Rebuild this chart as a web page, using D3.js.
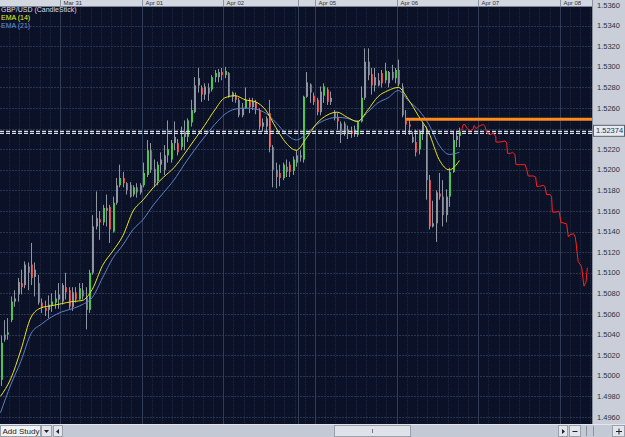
<!DOCTYPE html>
<html><head><meta charset="utf-8">
<script src="https://cdn.jsdelivr.net/npm/d3@7/dist/d3.min.js"></script>
<style>html,body{margin:0;padding:0;background:#0b1127;overflow:hidden}svg{display:block}</style>
</head><body><svg id="c" width="625" height="437"></svg>
<script>
// ---- data (GBP/USD hourly candles) ----
const opens=[1.4996,1.5040,1.5040,1.5054,1.5072,1.5079,1.5090,1.5088,1.5106,1.5108,
1.5096,1.5090,1.5071,1.5066,1.5064,1.5068,1.5071,1.5074,1.5072,1.5086,
1.5083,1.5067,1.5081,1.5074,1.5083,1.5076,1.5064,1.5100,1.5145,1.5152,
1.5149,1.5163,1.5164,1.5140,1.5168,1.5185,1.5192,1.5187,1.5185,1.5176,
1.5183,1.5178,1.5185,1.5195,1.5219,1.5201,1.5189,1.5205,1.5200,1.5214,
1.5210,1.5226,1.5226,1.5222,1.5232,1.5232,1.5246,1.5256,1.5282,1.5280,
1.5273,1.5280,1.5278,1.5290,1.5290,1.5295,1.5292,1.5294,1.5271,1.5272,
1.5268,1.5253,1.5260,1.5268,1.5261,1.5266,1.5258,1.5242,1.5242,1.5255,
1.5222,1.5200,1.5197,1.5192,1.5203,1.5205,1.5199,1.5207,1.5214,1.5210,
1.5271,1.5283,1.5272,1.5268,1.5256,1.5272,1.5278,1.5266,1.5256,1.5251,
1.5245,1.5245,1.5236,1.5238,1.5235,1.5234,1.5247,1.5270,1.5305,1.5293,
1.5282,1.5282,1.5294,1.5287,1.5284,1.5295,1.5289,1.5297,1.5281,1.5250,
1.5244,1.5232,1.5227,1.5220,1.5236,1.5237,1.5190,1.5145,1.5148,1.5177,
1.5174,1.5156,1.5174,1.5198,1.5229,1.5233];
const highs=[1.5039,1.5054,1.5056,1.5077,1.5083,1.5095,1.5103,1.5111,1.5110,1.5129,
1.5110,1.5098,1.5075,1.5073,1.5078,1.5080,1.5083,1.5090,1.5090,1.5100,
1.5086,1.5086,1.5086,1.5090,1.5090,1.5086,1.5103,1.5156,1.5179,1.5160,
1.5166,1.5176,1.5166,1.5174,1.5192,1.5205,1.5198,1.5188,1.5188,1.5185,
1.5187,1.5187,1.5207,1.5229,1.5226,1.5210,1.5208,1.5217,1.5224,1.5248,
1.5229,1.5247,1.5230,1.5242,1.5248,1.5250,1.5268,1.5290,1.5299,1.5282,
1.5284,1.5284,1.5292,1.5297,1.5298,1.5299,1.5300,1.5295,1.5276,1.5275,
1.5270,1.5265,1.5280,1.5270,1.5270,1.5268,1.5260,1.5250,1.5252,1.5268,
1.5224,1.5207,1.5205,1.5207,1.5210,1.5208,1.5213,1.5219,1.5219,1.5272,
1.5295,1.5284,1.5275,1.5270,1.5281,1.5284,1.5280,1.5276,1.5258,1.5255,
1.5247,1.5247,1.5243,1.5242,1.5243,1.5248,1.5281,1.5318,1.5318,1.5299,
1.5299,1.5294,1.5297,1.5304,1.5296,1.5302,1.5299,1.5307,1.5284,1.5258,
1.5249,1.5237,1.5239,1.5239,1.5246,1.5242,1.5195,1.5170,1.5180,1.5197,
1.5190,1.5181,1.5202,1.5237,1.5237,1.5241];
const lows=[1.4990,1.5033,1.5035,1.5052,1.5067,1.5072,1.5079,1.5085,1.5083,1.5088,
1.5077,1.5069,1.5061,1.5058,1.5056,1.5062,1.5065,1.5065,1.5069,1.5074,
1.5065,1.5063,1.5071,1.5074,1.5074,1.5045,1.5061,1.5098,1.5142,1.5132,
1.5146,1.5145,1.5129,1.5139,1.5166,1.5183,1.5183,1.5176,1.5173,1.5174,
1.5173,1.5176,1.5183,1.5193,1.5197,1.5183,1.5185,1.5197,1.5195,1.5207,
1.5207,1.5219,1.5214,1.5219,1.5219,1.5227,1.5242,1.5255,1.5275,1.5266,
1.5268,1.5267,1.5276,1.5285,1.5285,1.5287,1.5289,1.5270,1.5266,1.5265,
1.5251,1.5251,1.5259,1.5255,1.5258,1.5254,1.5239,1.5237,1.5236,1.5217,
1.5183,1.5182,1.5184,1.5190,1.5193,1.5193,1.5195,1.5203,1.5208,1.5207,
1.5270,1.5265,1.5263,1.5253,1.5253,1.5265,1.5263,1.5263,1.5248,1.5239,
1.5226,1.5233,1.5230,1.5231,1.5232,1.5232,1.5246,1.5268,1.5287,1.5273,
1.5276,1.5281,1.5280,1.5284,1.5280,1.5287,1.5284,1.5281,1.5251,1.5234,
1.5234,1.5226,1.5213,1.5215,1.5229,1.5171,1.5142,1.5144,1.5130,1.5171,
1.5145,1.5149,1.5164,1.5197,1.5222,1.5222];
const closes=[1.5032,1.5035,1.5042,1.5072,1.5075,1.5091,1.5086,1.5108,1.5100,1.5095,
1.5103,1.5071,1.5066,1.5063,1.5069,1.5072,1.5075,1.5079,1.5088,1.5081,
1.5067,1.5081,1.5074,1.5085,1.5077,1.5064,1.5100,1.5145,1.5153,1.5149,
1.5163,1.5160,1.5142,1.5168,1.5185,1.5192,1.5187,1.5180,1.5174,1.5183,
1.5178,1.5185,1.5197,1.5219,1.5200,1.5187,1.5205,1.5210,1.5214,1.5220,
1.5226,1.5232,1.5217,1.5232,1.5237,1.5248,1.5258,1.5282,1.5289,1.5273,
1.5281,1.5274,1.5290,1.5294,1.5295,1.5292,1.5296,1.5271,1.5275,1.5268,
1.5253,1.5260,1.5268,1.5261,1.5266,1.5259,1.5242,1.5246,1.5250,1.5222,
1.5200,1.5193,1.5192,1.5205,1.5198,1.5198,1.5210,1.5214,1.5212,1.5271,
1.5285,1.5275,1.5266,1.5256,1.5276,1.5281,1.5266,1.5270,1.5250,1.5247,
1.5234,1.5236,1.5239,1.5235,1.5239,1.5247,1.5270,1.5305,1.5292,1.5282,
1.5290,1.5287,1.5284,1.5296,1.5295,1.5289,1.5297,1.5283,1.5253,1.5244,
1.5242,1.5227,1.5217,1.5237,1.5244,1.5190,1.5145,1.5148,1.5178,1.5174,
1.5156,1.5174,1.5198,1.5229,1.5233,1.52374];

// EMA study values, read every 3 hours
const emaHours=[0,3,6,9,12,15,18,21,24,27,30,33,36,39,42,45,48,51,54,57,60,63,66,69,72,75,78,81,84,87,90,93,96,99,102,105,108,111,114,117,120,123,126,129,132,135];
const ema14=[1.4980,1.4997,1.5025,1.5057,1.5066,1.5068,1.5070,1.5072,1.5073,1.5084,1.5107,1.5121,1.5136,1.5160,1.5171,1.5183,1.5193,1.5202,1.5215,1.5229,1.5243,1.5258,1.5270,1.5272,1.5268,1.5266,1.5258,1.5241,1.5226,1.5219,1.5231,1.5245,1.5253,1.5256,1.5251,1.5247,1.5258,1.5271,1.5277,1.5280,1.5268,1.5252,1.5236,1.5210,1.5200,1.5209];
const ema21=[1.4964,1.4991,1.5014,1.5041,1.5050,1.5057,1.5062,1.5065,1.5069,1.5076,1.5095,1.5114,1.5127,1.5142,1.5152,1.5166,1.5178,1.5190,1.5205,1.5219,1.5232,1.5244,1.5254,1.5259,1.5260,1.5259,1.5255,1.5246,1.5235,1.5229,1.5235,1.5244,1.5249,1.5251,1.5250,1.5247,1.5256,1.5265,1.5270,1.5277,1.5267,1.5258,1.5244,1.5224,1.5215,1.5217];

// hand-drawn projection (red)
const fcHours=[135.65,136.15,136.6,137.1,137.8,138.6,139.4,139.8,140.35,141.0,141.7,142.5,143.0,143.5,144.5,145.4,146.2,146.2,147.4,148.9,149.4,149.6,150.6,151.1,151.8,152.1,153.3,154.8,155.3,155.7,157.2,157.9,158.2,159.2,160.1,160.6,161.1,162.1,162.6,162.8,164.1,164.6,164.9,165.3,166.5,167.0,167.5,168.0,169.0,169.5,169.8,170.0,170.4,171.4,172.1,172.7,173.1];
const fcPrices=[1.5237,1.5239,1.5244,1.5244,1.5240,1.5238,1.5239,1.5243,1.5240,1.5242,1.5243,1.5244,1.5242,1.5236,1.5234,1.5236,1.5232,1.5227,1.5227,1.5228,1.5226,1.5216,1.5216,1.5217,1.5215,1.5205,1.5205,1.5205,1.5200,1.5194,1.5194,1.5193,1.5184,1.5184,1.5185,1.5184,1.5176,1.5176,1.5174,1.5159,1.5159,1.5160,1.5158,1.5149,1.5148,1.51475,1.5135,1.5137,1.5138,1.5135,1.5129,1.5122,1.5111,1.5106,1.5087,1.5091,1.5105];

const resistanceLevel=1.5249, resistanceFrom=119.8;
const bidPrice=1.52374, askLine=1.52354, lastLabel="1.52374";
const dayLabels=["Mar 31","Apr 01","Apr 02","","Apr 05","Apr 06","Apr 07","Apr 08"];
const dayStarts=[18,42,66,88,93,117,141,165];
const yTicks=[1.4960,1.4980,1.5000,1.5020,1.5040,1.5060,1.5080,1.5100,1.5120,1.5140,1.5160,1.5180,1.5200,1.5220,1.5240,1.5260,1.5280,1.5300,1.5320,1.5340,1.5360];
const legendTitle="GBP/USD (CandleStick)", legend14="EMA (14)", legend21="EMA (21)";

// ---- drawing ----
const W=625,H=437, plotR=592, plotT=6, plotB=424;
const FONT="Liberation Sans, Arial, sans-serif";
const svg=d3.select("#c");
const x=d3.scaleLinear().domain([0,175]).range([-1.2,593.8]);
const y=d3.scaleLinear().domain([1.4960,1.5360]).range([416.9,5.1]);

svg.append("rect").attr("width",W).attr("height",H).attr("fill","#0b1127");
svg.append("clipPath").attr("id","pc").append("rect").attr("x",0).attr("y",plotT).attr("width",plotR).attr("height",plotB-plotT);
const g=svg.append("g").attr("clip-path","url(#pc)");

// fine grid
const minorX=d3.range(0,175,3);
g.selectAll(".vx").data(minorX).join("line").attr("x1",d=>Math.round(x(d))+0.5).attr("x2",d=>Math.round(x(d))+0.5).attr("y1",plotT).attr("y2",plotB)
 .attr("stroke","#1d2740").attr("stroke-width",1).attr("stroke-dasharray","1,1");
g.selectAll(".hy").data(yTicks).join("line").attr("x1",0).attr("x2",plotR).attr("y1",d=>Math.round(y(d))+0.5).attr("y2",d=>Math.round(y(d))+0.5)
 .attr("stroke","#2a3550").attr("stroke-width",1).attr("stroke-dasharray","2,1");
g.selectAll(".day").data(dayStarts).join("line").attr("x1",d=>Math.round(x(d))+0.5).attr("x2",d=>Math.round(x(d))+0.5).attr("y1",plotT).attr("y2",plotB)
 .attr("stroke","#313c57").attr("stroke-width",1);

// candles: bodies first, wicks drawn over their left column
const idx=d3.range(opens.length);
g.selectAll(".body").data(idx).join("rect")
 .attr("x",i=>Math.round(x(i+0.5))).attr("width",2)
 .attr("y",i=>y(Math.max(opens[i],closes[i])))
 .attr("height",i=>Math.max(1,Math.abs(y(opens[i])-y(closes[i]))))
 .attr("fill",i=>closes[i]>opens[i]?"#4cc34c":(closes[i]<opens[i]?"#d24c4c":"#9aa0aa"));
g.selectAll(".wick").data(idx).join("line")
 .attr("x1",i=>Math.round(x(i+0.5))+0.5).attr("x2",i=>Math.round(x(i+0.5))+0.5)
 .attr("y1",i=>y(highs[i])).attr("y2",i=>y(lows[i]))
 .attr("stroke","#8f95a1").attr("stroke-width",1);

// EMA lines
const line=d3.line().x(d=>x(d[0]+0.5)).y(d=>y(d[1])).curve(d3.curveMonotoneX);
g.append("path").attr("d",line(emaHours.map((h,k)=>[h,ema21[k]]))).attr("fill","none").attr("stroke","#5b82c8").attr("stroke-width",1);
g.append("path").attr("d",line(emaHours.map((h,k)=>[h,ema14[k]]))).attr("fill","none").attr("stroke","#e6e619").attr("stroke-width",1);

// bid / ask dashed
[bidPrice,askLine].forEach(v=>{
 g.append("line").attr("x1",0).attr("x2",plotR).attr("y1",y(v)).attr("y2",y(v))
  .attr("stroke","#d8dce6").attr("stroke-width",1.2).attr("stroke-dasharray","4,2");
});
// resistance
g.append("line").attr("x1",x(resistanceFrom)).attr("x2",plotR).attr("y1",y(resistanceLevel)).attr("y2",y(resistanceLevel))
 .attr("stroke","#ff8a1e").attr("stroke-width",3);
// projection
g.append("path").attr("d",d3.line().x((d,k)=>x(fcHours[k])).y(d=>y(d))(fcPrices)).attr("fill","none").attr("stroke","#ff1f1f").attr("stroke-width",1);

// legend
const lg=svg.append("g").attr("font-family",FONT).attr("font-size","7px");
lg.append("text").attr("x",1).attr("y",12).attr("fill","#d8dbe2").text(legendTitle);
lg.append("text").attr("x",1).attr("y",20).attr("fill","#f0f020").text(legend14);
lg.append("text").attr("x",1).attr("y",28).attr("fill","#6d92d6").text(legend21);

// top date strip
svg.append("rect").attr("x",0).attr("y",0).attr("width",W).attr("height",6).attr("fill","#d3d7df");
svg.append("line").attr("x1",0).attr("x2",plotR).attr("y1",6.5).attr("y2",6.5).attr("stroke","#7d8594");
const ts=svg.append("g").attr("font-family",FONT).attr("font-size","6px").attr("fill","#333");
dayStarts.forEach((d,k)=>{
 const px=Math.round(x(d))+0.5;
 ts.append("line").attr("x1",px).attr("x2",px).attr("y1",0).attr("y2",6).attr("stroke","#8d95a3");
 if(dayLabels[k]) ts.append("text").attr("x",px+3).attr("y",5.4).text(dayLabels[k]);
});

// right axis panel
svg.append("rect").attr("x",plotR).attr("y",0).attr("width",W-plotR).attr("height",plotB).attr("fill","#c9ced8");
svg.append("line").attr("x1",plotR+0.5).attr("x2",plotR+0.5).attr("y1",0).attr("y2",plotB).attr("stroke","#8a92a0");
const ax=svg.append("g").attr("font-family",FONT).attr("font-size","7.5px").attr("fill","#2c3340");
yTicks.filter(v=>Math.abs(y(v)-y(bidPrice))>8).forEach(v=>{
 ax.append("text").attr("x",597).attr("y",Math.max(y(v),4.5)).attr("dy","0.35em").text(v.toFixed(4));
});
svg.append("rect").attr("x",593.5).attr("y",y(bidPrice)-6).attr("width",31).attr("height",11).attr("fill","#e7eaf0").attr("stroke","#5a6270");
svg.append("text").attr("font-family",FONT).attr("font-size","7.5px").attr("fill","#2c3340")
 .attr("x",596).attr("y",y(bidPrice)-0.5).attr("dy","0.35em").text(lastLabel);

// bottom bar
svg.append("rect").attr("x",0).attr("y",plotB).attr("width",W).attr("height",H-plotB).attr("fill","#c4cad5");
svg.append("line").attr("x1",0).attr("x2",W).attr("y1",plotB+0.5).attr("y2",plotB+0.5).attr("stroke","#e3e6ec");
const bb=svg.append("g").attr("font-family",FONT).attr("font-size","8px").attr("fill","#222");
bb.append("rect").attr("x",0.5).attr("y",plotB+1.5).attr("width",40).attr("height",11).attr("fill","#f2f3f6").attr("stroke","#9aa1ad");
bb.append("text").attr("x",2.5).attr("y",plotB+10).text("Add Study");
bb.append("rect").attr("x",41.5).attr("y",plotB+1.5).attr("width",10).attr("height",11).attr("fill","#e2e5eb").attr("stroke","#9aa1ad");
bb.append("path").attr("d",`M44,${plotB+6} h5 l-2.5,3 z`).attr("fill","#222");
bb.append("rect").attr("x",53.5).attr("y",plotB+1.5).attr("width",9).attr("height",11).attr("fill","#e2e5eb").attr("stroke","#9aa1ad");
bb.append("path").attr("d",`M59,${plotB+5} v5 l-3,-2.5 z`).attr("fill","#222");
bb.append("rect").attr("x",334.5).attr("y",plotB+1.5).attr("width",76).attr("height",11).attr("fill","#dfe2e8").attr("stroke","#9aa1ad");
bb.append("line").attr("x1",372.5).attr("x2",372.5).attr("y1",plotB+5).attr("y2",plotB+9).attr("stroke","#777");
bb.append("rect").attr("x",558.5).attr("y",plotB+1.5).attr("width",9).attr("height",11).attr("fill","#e2e5eb").attr("stroke","#9aa1ad");
bb.append("path").attr("d",`M562,${plotB+5} v5 l3,-2.5 z`).attr("fill","#222");
bb.append("rect").attr("x",569.5).attr("y",plotB+1.5).attr("width",11).attr("height",11).attr("fill","#e2e5eb").attr("stroke","#9aa1ad");
bb.append("line").attr("x1",572.5).attr("x2",577.5).attr("y1",plotB+7.5).attr("y2",plotB+7.5).attr("stroke","#222");
bb.append("line").attr("x1",586.5).attr("x2",586.5).attr("y1",plotB+2).attr("y2",plotB+12).attr("stroke","#8a92a0");
bb.append("line").attr("x1",593.5).attr("x2",593.5).attr("y1",plotB+2).attr("y2",plotB+12).attr("stroke","#8a92a0");
bb.append("rect").attr("x",612.5).attr("y",plotB+1.5).attr("width",12).attr("height",11).attr("fill","#e2e5eb").attr("stroke","#9aa1ad");
bb.append("path").attr("d",`M616,${plotB+7.5} h6 M619,${plotB+4.5} v6`).attr("stroke","#222");
</script></body></html>
